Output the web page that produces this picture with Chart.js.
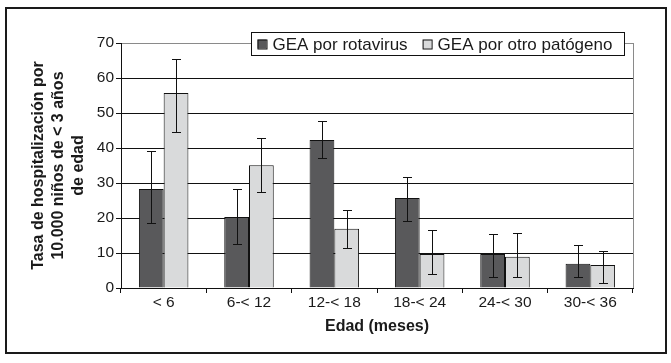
<!DOCTYPE html>
<html>
<head>
<meta charset="utf-8">
<script src="https://cdn.jsdelivr.net/npm/chart.js@4.4.1/dist/chart.umd.min.js"></script>
<style>
  html, body { margin: 0; padding: 0; background: #fff; }
  #wrap { width: 671px; height: 363px; }
</style>
</head>
<body>
<div id="wrap"><canvas id="tasaChart" width="671" height="363"></canvas></div>
<script>
// Grupos de edad (meses)
const edades = ['< 6', '6-< 12', '12-< 18', '18-< 24', '24-< 30', '30-< 36'];

// GEA por rotavirus
const rotaTasa = [28.3, 20.3, 42.3, 25.7, 9.7, 6.9];
const rotaInf  = [18.6, 12.6, 37.1, 19.1, 3.1, 3.1];
const rotaSup  = [39.2, 28.2, 47.8, 31.7, 15.5, 12.2];

// GEA por otro patógeno
const otroTasa = [55.7, 35.1, 16.9, 9.7, 8.9, 6.6];
const otroInf  = [44.6, 27.4, 11.4, 4.0, 3.1, 1.4];
const otroSup  = [65.4, 42.9, 22.3, 16.6, 15.7, 10.6];

const yTicks = [0, 10, 20, 30, 40, 50, 60, 70];

const colorRota = '#59595b';
const colorOtro = '#d9dadb';
const fontFam = '"Liberation Sans", Arial, Helvetica, sans-serif';

// Barras de error (IC) dibujadas con las escalas del gráfico
const errorBars = {
    id: 'errorBars',
    afterDatasetsDraw(chart) {
        const ctx = chart.ctx;
        const y = chart.scales.y;
        const limites = [[rotaInf, rotaSup], [otroInf, otroSup]];
        ctx.save();
        ctx.strokeStyle = '#111';
        ctx.lineWidth = 1;
        chart.data.datasets.forEach((ds, d) => {
            const meta = chart.getDatasetMeta(d);
            meta.data.forEach((bar, i) => {
                const x = Math.round(bar.x) + 0.5;
                const yLo = Math.round(y.getPixelForValue(limites[d][0][i])) + 0.5;
                const yHi = Math.round(y.getPixelForValue(limites[d][1][i])) + 0.5;
                ctx.beginPath();
                ctx.moveTo(x, yLo); ctx.lineTo(x, yHi);
                ctx.moveTo(x - 4.5, yLo); ctx.lineTo(x + 4.5, yLo);
                ctx.moveTo(x - 4.5, yHi); ctx.lineTo(x + 4.5, yHi);
                ctx.stroke();
            });
        });
        ctx.restore();
    }
};

// Marco exterior, borde derecho gris y leyenda con recuadro
const marcoLeyenda = {
    id: 'marcoLeyenda',
    afterDraw(chart) {
        const ctx = chart.ctx;
        const area = chart.chartArea;
        ctx.save();

        // borde derecho del área de trazado
        ctx.strokeStyle = '#8a8a8a';
        ctx.lineWidth = 1;
        ctx.beginPath();
        ctx.moveTo(Math.round(area.right) + 0.5, area.top);
        ctx.lineTo(Math.round(area.right) + 0.5, area.bottom);
        ctx.stroke();

        // marco exterior
        ctx.strokeStyle = '#1a1a1a';
        ctx.lineWidth = 2;
        ctx.strokeRect(6, 8, 660, 345);

        // leyenda
        const lx = 251.5, ly = 32.5, lw = 373, lh = 23;
        ctx.fillStyle = '#fff';
        ctx.fillRect(lx, ly, lw, lh);
        ctx.strokeStyle = '#111';
        ctx.lineWidth = 1;
        ctx.strokeRect(lx, ly, lw, lh);

        ctx.font = '17px ' + fontFam;
        ctx.textBaseline = 'middle';
        ctx.textAlign = 'left';
        let x = lx + 6;
        const cy = ly + lh / 2;
        chart.data.datasets.forEach((ds) => {
            ctx.fillStyle = ds.backgroundColor;
            ctx.fillRect(x, cy - 4.5, 9, 9);
            ctx.strokeRect(x + 0.5, cy - 4.5 + 0.5, 9, 9);
            ctx.fillStyle = '#1a1a1a';
            ctx.fillText(ds.label, x + 15, cy + 1);
            x += 15 + ctx.measureText(ds.label).width + 15;
        });
        ctx.restore();
    }
};

new Chart(document.getElementById('tasaChart').getContext('2d'), {
    type: 'bar',
    data: {
        labels: edades,
        datasets: [
            {
                label: 'GEA por rotavirus',
                data: rotaTasa,
                backgroundColor: colorRota,
                borderColor: '#111',
                borderWidth: 1,
                categoryPercentage: 0.58,
                barPercentage: 1.0
            },
            {
                label: 'GEA por otro patógeno',
                data: otroTasa,
                backgroundColor: colorOtro,
                borderColor: '#111',
                borderWidth: 1,
                categoryPercentage: 0.58,
                barPercentage: 1.0
            }
        ]
    },
    options: {
        responsive: false,
        animation: false,
        devicePixelRatio: 1,
        layout: { padding: { left: 20, right: 38, top: 43, bottom: 20 } },
        scales: {
            x: {
                offset: true,
                grid: {
                    offset: true,
                    drawOnChartArea: false,
                    drawTicks: true,
                    tickLength: 5,
                    tickColor: '#111'
                },
                border: { display: true, color: '#111', width: 1 },
                ticks: { padding: 0, color: '#1a1a1a', font: { family: fontFam, size: 15.5 } },
                title: {
                    display: true,
                    text: 'Edad (meses)',
                    color: '#1a1a1a',
                    font: { family: fontFam, size: 16, weight: 'bold' },
                    padding: { top: 0, bottom: 7 }
                },
                afterFit: (scale) => { scale.height = 55; }
            },
            y: {
                min: 0,
                max: 70,
                afterBuildTicks: (scale) => { scale.ticks = yTicks.map(v => ({ value: v })); },
                grid: {
                    color: (c) => (c.tick && c.tick.value === 70) ? '#8a8a8a' : '#111',
                    tickColor: '#111',
                    tickLength: 5,
                    lineWidth: 1
                },
                border: { display: true, color: '#111', width: 1 },
                ticks: { padding: 2, color: '#1a1a1a', font: { family: fontFam, size: 15.5 } },
                title: {
                    display: true,
                    text: ['Tasa de hospitalización por', '10.000 niños de < 3 años', 'de edad'],
                    color: '#1a1a1a',
                    font: { family: fontFam, size: 16, weight: 'bold', lineHeight: 1.25 },
                    padding: { top: 9, bottom: 0 }
                },
                afterFit: (scale) => { scale.width = 101; }
            }
        },
        plugins: {
            legend: { display: false },
            tooltip: { enabled: false }
        }
    },
    plugins: [errorBars, marcoLeyenda]
});
</script>
</body>
</html>
